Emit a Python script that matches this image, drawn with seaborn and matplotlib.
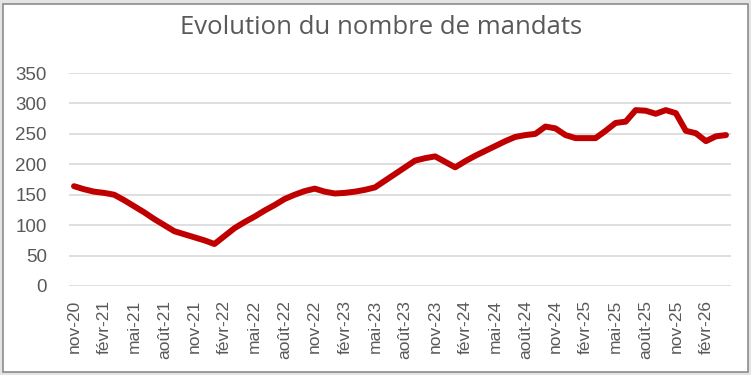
import matplotlib
matplotlib.use("Agg")
import matplotlib.pyplot as plt
import matplotlib.patches as mpatches
import numpy as np
import pandas as pd
import seaborn as sns

# Monthly series, nov-20 .. avr-26
MONTH_ABBR = ["janv", "févr", "mars", "avr", "mai", "juin",
              "juil", "août", "sept", "oct", "nov", "déc"]
START_YEAR, START_MONTH = 2020, 11  # nov-20

mandats = [
    164, 159, 155, 153, 150, 141, 131, 121, 110, 100, 90, 85,
    80, 75, 69, 82, 95, 105, 114, 124, 133, 143, 150, 156,
    160, 155, 152, 153, 155, 158, 162, 173, 184, 195, 206, 210,
    213, 204, 195, 205, 214, 222, 230, 238, 245, 248, 250, 262,
    259, 248, 243, 243, 243, 255, 268, 270, 289, 288, 283, 289,
    284, 255, 251, 238, 246, 248,
]

months = []
for k in range(len(mandats)):
    m = (START_MONTH - 1 + k) % 12
    y = START_YEAR + (START_MONTH - 1 + k) // 12
    months.append(f"{MONTH_ABBR[m]}-{y % 100:02d}")

y_ticks = [0, 50, 100, 150, 200, 250, 300, 350]

TEXT = "#595959"
GRID = "#d9d9d9"
RED = "#c00000"

df = pd.DataFrame({"idx": np.arange(len(mandats)), "mois": months, "mandats": mandats})

sns.set_theme(style="white")
plt.rcParams["font.family"] = ["Liberation Sans", "DejaVu Sans"]

fig = plt.figure(figsize=(7.51, 3.75), dpi=100)
fig.patch.set_facecolor("#e4e4e4")
W, H = 751, 375
# chart-area frame (drawn behind the axes)
frame = mpatches.Rectangle((2.5 / W, 3.5 / H), 745.5 / W, 368 / H,
                           transform=fig.transFigure, facecolor="white",
                           edgecolor="#8c8c8c", linewidth=1.2, zorder=-10)
fig.patches.append(frame)

ax = fig.add_axes([69 / W, 1 - 286 / H, 662 / W, 213 / H])
ax.set_facecolor("none")

sns.lineplot(data=df, x="idx", y="mandats", color=RED, linewidth=4.3,
             solid_capstyle="round", solid_joinstyle="round", ax=ax, zorder=3)

ax.set_xlim(-0.5, len(mandats) - 0.5)
ax.set_ylim(0, 350)
ax.set_yticks(y_ticks)
ax.set_xticks(df["idx"][::3])
ax.set_xticklabels(df["mois"][::3], rotation=90, fontsize=12.5, color=TEXT)
ax.tick_params(axis="x", length=0, pad=10)
ax.tick_params(axis="y", length=0, pad=16, labelsize=13.5, labelcolor=TEXT)
ax.grid(axis="y", color=GRID, linewidth=1.2)
ax.set_axisbelow(True)
for s in ax.spines.values():
    s.set_visible(False)
ax.set_xlabel("")
ax.set_ylabel("")

fig.text(0.507, 1 - 28 / H, "Evolution du nombre de mandats", ha="center", va="center",
         fontsize=18.5, color=TEXT, family=["Open Sans", "DejaVu Sans"])

fig.savefig("out.png", dpi=100, facecolor=fig.get_facecolor())
